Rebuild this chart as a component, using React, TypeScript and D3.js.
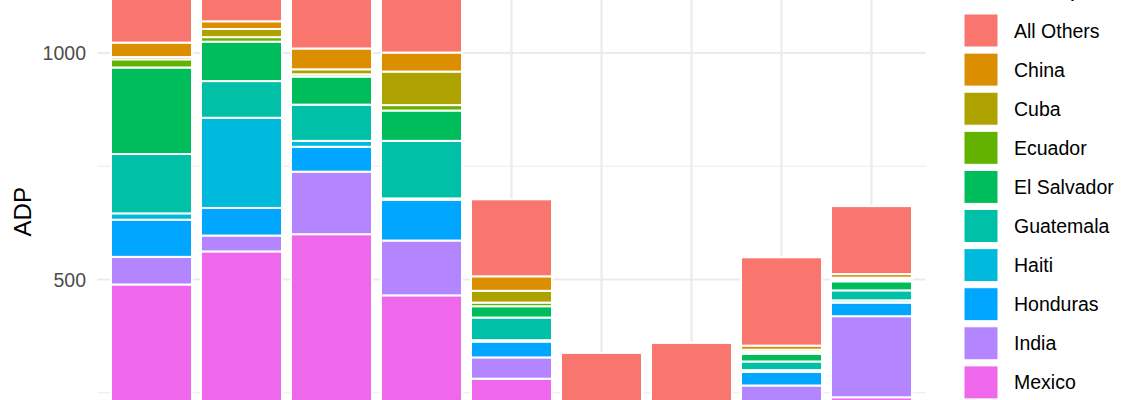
import React, {useEffect, useRef} from 'react'
import * as d3 from 'd3'

// bars (their axis labels fall below the cropped area, so they are not drawn)
const years = ['2016', '2017', '2018', '2019', '2020', '2021', '2022', '2023', '2024']

// legend order, first level is stacked on top
const countries = ['All Others', 'China', 'Cuba', 'Ecuador', 'El Salvador', 'Guatemala', 'Haiti', 'Honduras', 'India', 'Mexico', 'Venezuela']

// ggplot hue palette for 11 levels
const colors = ['#F8766D', '#DB8E00', '#AEA200', '#64B200', '#00BD5C', '#00C1A7', '#00BADE', '#00A6FF', '#B385FF', '#EF67EB', '#FF63B6']

// ADP per country, one value per bar
const allOthers = [167, 165, 289, 248, 170, 338, 360, 195, 150]
const china = [32, 17, 46, 42, 32, 0, 0, 9, 8]
const cuba = [5, 18, 11, 74, 26, 0, 0, 5, 4]
const ecuador = [18, 10, 5, 12, 8, 0, 0, 4, 4]
const elSalvador = [191, 87, 62, 67, 25, 0, 0, 17, 20]
const guatemala = [131, 81, 80, 127, 50, 0, 0, 19, 22]
const haiti = [14, 199, 13, 3, 3, 0, 0, 4, 5]
const honduras = [82, 61, 55, 90, 35, 0, 0, 30, 30]
const india = [61, 35, 138, 121, 47, 0, 0, 66, 179]
const mexico = [449, 532, 565, 405, 236, 0, 0, 170, 200]
const venezuela = [40, 30, 35, 60, 45, 0, 0, 30, 40]

const series = [allOthers, china, cuba, ecuador, elSalvador, guatemala, haiti, honduras, india, mexico, venezuela]

const yBreaks = [0, 500, 1000]
const yMinorBreaks = [250, 750, 1250]

const width = 1140
const height = 400
const font = '"Liberation Sans", Arial, Helvetica, sans-serif'
const gridColor = '#EBEBEB'

function draw(el: SVGSVGElement | null) {
  if (!el) return
  var svg = d3.select(el)
  svg.selectAll('*').remove()

  // one row per bar, keyed by country
  var rows: any[] = years.map((yr, i) => {
    var row: any = {year: yr}
    countries.forEach((c, j) => { row[c] = series[j][i] })
    return row
  })
  var totals = rows.map(r => d3.sum(countries, c => r[c]))
  var maxTotal = d3.max(totals) as number

  // discrete axis: 0.6 step expansion on each side, bars 0.9 wide
  var x = d3.scaleBand<string>()
    .domain(years)
    .range([97.5, 925.5])
    .paddingInner(0.1)
    .paddingOuter(0.15)

  // the picture is a crop of a taller plot, so the scale runs past the svg
  var y = d3.scaleLinear().domain([0, 1000]).range([506, 53])
  var panelTop = y(maxTotal * 1.05)
  var panelBottom = y(-maxTotal * 0.05)
  var panelLeft = 97.5
  var panelRight = 925.5

  var grid = svg.append('g')
  grid.selectAll('line.minor')
    .data(yMinorBreaks)
    .enter()
    .append('line')
    .attr('x1', panelLeft).attr('x2', panelRight)
    .attr('y1', d => y(d)).attr('y2', d => y(d))
    .attr('stroke', gridColor)
    .attr('stroke-width', 1.1)
  grid.selectAll('line.major')
    .data(yBreaks)
    .enter()
    .append('line')
    .attr('x1', panelLeft).attr('x2', panelRight)
    .attr('y1', d => y(d)).attr('y2', d => y(d))
    .attr('stroke', gridColor)
    .attr('stroke-width', 2.2)
  grid.selectAll('line.vert')
    .data(years)
    .enter()
    .append('line')
    .attr('x1', d => (x(d) as number) + x.bandwidth() / 2)
    .attr('x2', d => (x(d) as number) + x.bandwidth() / 2)
    .attr('y1', panelTop).attr('y2', panelBottom)
    .attr('stroke', gridColor)
    .attr('stroke-width', 2.2)

  // stack bottom-up: last level at the bottom, All Others on top
  var stack = d3.stack<any>().keys(countries.slice().reverse())
  var layers = stack(rows)

  svg.append('g')
    .selectAll('g')
    .data(layers)
    .enter()
    .append('g')
    .attr('fill', d => colors[countries.indexOf(d.key)])
    .selectAll('rect')
    .data(d => d.filter(s => s[1] - s[0] > 0))
    .enter()
    .append('rect')
    .attr('x', d => x(d.data.year) as number)
    .attr('width', x.bandwidth())
    .attr('y', d => y(d[1]))
    .attr('height', d => y(d[0]) - y(d[1]))
    .attr('stroke', 'white')
    .attr('stroke-width', 2)

  // y axis labels, only the breaks that fall inside the crop
  svg.append('g')
    .selectAll('text')
    .data(yBreaks.filter(b => y(b) > 10 && y(b) < height - 10))
    .enter()
    .append('text')
    .attr('x', 86)
    .attr('y', d => y(d))
    .attr('dy', '0.36em')
    .attr('text-anchor', 'end')
    .attr('font-family', font)
    .attr('font-size', 19.5)
    .attr('fill', '#4D4D4D')
    .text(d => d)

  svg.append('text')
    .attr('transform', 'translate(30.5,' + (panelTop + panelBottom) / 2 + ') rotate(-90)')
    .attr('text-anchor', 'middle')
    .attr('font-family', font)
    .attr('font-size', 24)
    .attr('fill', 'black')
    .text('ADP')

  // legend
  var legend = svg.append('g').attr('transform', 'translate(964,14)')
  legend.append('text')
    .attr('x', 0)
    .attr('y', -18)
    .attr('font-family', font)
    .attr('font-size', 24.4)
    .attr('fill', 'black')
    .text('Citizenship')
  var items = legend.selectAll('g.item')
    .data(countries)
    .enter()
    .append('g')
    .attr('transform', (d, i) => 'translate(0,' + i * 39.1 + ')')
  items.append('rect')
    .attr('width', 34)
    .attr('height', 33)
    .attr('fill', (d, i) => colors[i])
    .attr('stroke', 'white')
    .attr('stroke-width', 1)
  items.append('text')
    .attr('x', 50)
    .attr('y', 16.5)
    .attr('dy', '0.36em')
    .attr('font-family', font)
    .attr('font-size', 19.5)
    .attr('fill', 'black')
    .text(d => d)
}

export default function App() {
  const ref = useRef<SVGSVGElement>(null)

  useEffect(() => {
    draw(ref.current)
  }, [])

  return (
    <svg
      ref={ref}
      width={width}
      height={height}
      style={{position: 'absolute', left: 0, top: 0, background: 'white', display: 'block'}}
    />
  )
}
